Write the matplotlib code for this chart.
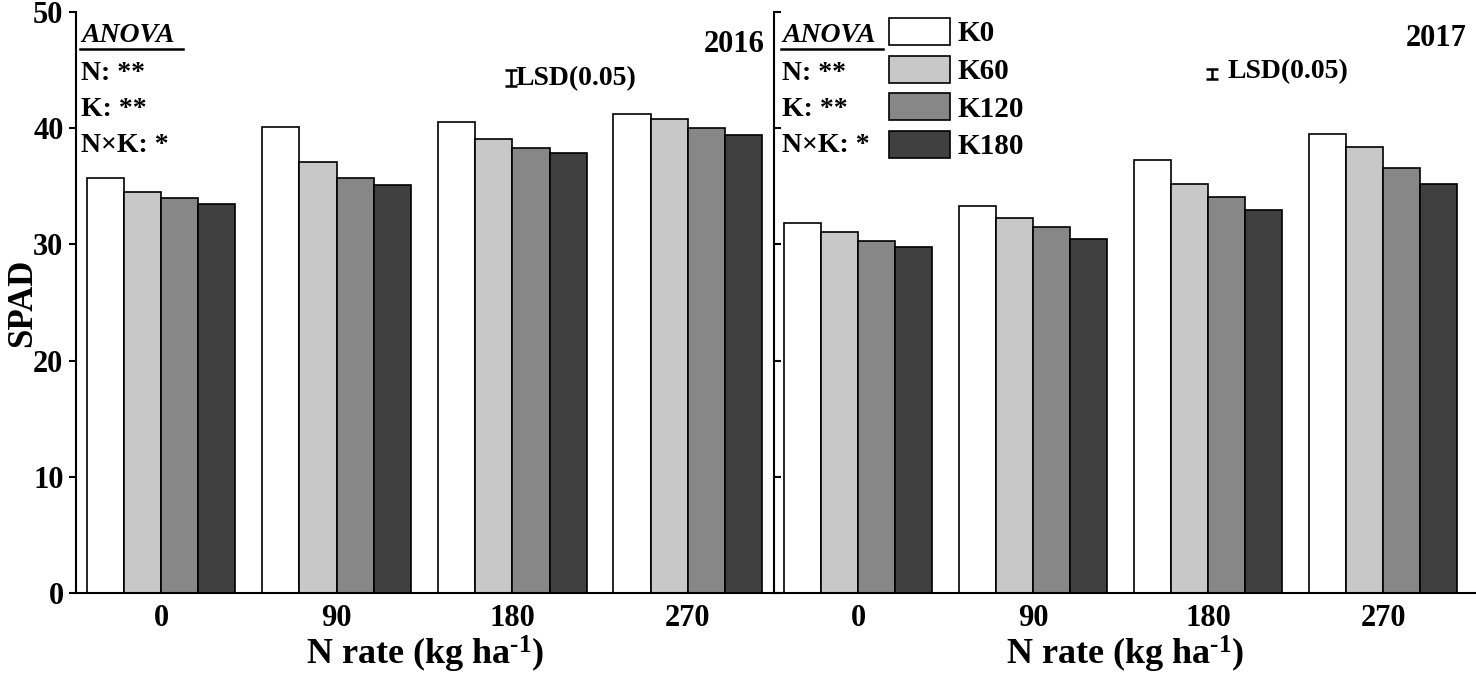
import numpy as np
import matplotlib
matplotlib.use('Agg')
import matplotlib.pyplot as plt
from matplotlib.lines import Line2D

plt.rcParams['font.family'] = ['Liberation Serif', 'DejaVu Serif']
plt.rcParams['font.weight'] = 'bold'
plt.rcParams['axes.labelweight'] = 'bold'
plt.rcParams['mathtext.fontset'] = 'custom'
plt.rcParams['mathtext.rm'] = 'Liberation Serif:bold'
plt.rcParams['mathtext.bf'] = 'Liberation Serif:bold'
plt.rcParams['mathtext.default'] = 'bf'

# data
n_rates = ['0', '90', '180', '270']
k_levels = ['K0', 'K60', 'K120', 'K180']
years = ['2016', '2017']

k0_2016 = [35.7, 40.1, 40.5, 41.2]
k60_2016 = [34.5, 37.1, 39.1, 40.8]
k120_2016 = [34.0, 35.7, 38.3, 40.0]
k180_2016 = [33.5, 35.1, 37.9, 39.4]

k0_2017 = [31.8, 33.3, 37.3, 39.5]
k60_2017 = [31.1, 32.3, 35.2, 38.4]
k120_2017 = [30.3, 31.5, 34.1, 36.6]
k180_2017 = [29.8, 30.5, 33.0, 35.2]

lsd = [1.4, 0.86]
anova_rows = ['N: **', 'K: **', 'N×K: *']

colors = ['#ffffff', '#c8c8c8', '#878787', '#404040']
W, H = 1476, 675


def fx(px):
    return px / W


def fy(py):
    return 1 - py / H


fig = plt.figure(figsize=(W / 100, H / 100), dpi=100)
ax1 = fig.add_axes([fx(76), fy(593), fx(774 - 76), (593 - 12) / H])
ax2 = fig.add_axes([fx(774), fy(593), fx(W - 774), (593 - 12) / H])

series = [[k0_2016, k60_2016, k120_2016, k180_2016],
          [k0_2017, k60_2017, k120_2017, k180_2017]]

x = np.arange(len(n_rates))
w = 0.212
bars = []
for ax, data in zip([ax1, ax2], series):
    bars = []
    for i, vals in enumerate(data):
        b = ax.bar(x + (i - 1.5) * w, vals, w, color=colors[i],
                   edgecolor='black', linewidth=1.2, label=k_levels[i])
        bars.append(b)
    ax.set_ylim(0, 50)
    ax.set_yticks(np.arange(0, 51, 10))
    ax.set_xticks(x)
    ax.set_xticklabels(n_rates, fontsize=22)
    ax.tick_params(axis='x', length=0, pad=8)
    for s in ['top', 'right']:
        ax.spines[s].set_visible(False)
    for s in ['left', 'bottom']:
        ax.spines[s].set_linewidth(1.5)
    ax.set_xlabel(r'N rate (kg ha$^{\text{-1}}$)', fontsize=26)
    ax.xaxis.set_label_coords(0.5, -0.071)

ax1.set_xlim(-0.484, 3.49)
ax2.set_xlim(-0.48, 3.53)
ax1.tick_params(axis='y', direction='out', length=5, width=1.5, labelsize=22, pad=4)
ax2.tick_params(axis='y', direction='in', length=5, width=1.5, labelleft=False)
ax1.set_ylabel('SPAD', fontsize=25)
ax1.yaxis.set_label_coords(-0.077, 0.5)
ax1.yaxis.label.set_va('center')

# LSD bars
ax1.errorbar(1.99, 44.3, yerr=lsd[0] / 2, fmt='none', ecolor='black',
             elinewidth=1.8, capsize=4, capthick=1.8)
ax2.errorbar(2.02, 44.7, yerr=lsd[1] / 2, fmt='none', ecolor='black',
             elinewidth=1.8, capsize=4, capthick=1.8)
fig.text(fx(516), fy(79), 'LSD(0.05)', fontsize=20, ha='left', va='center')
fig.text(fx(1227), fy(72), 'LSD(0.05)', fontsize=20, ha='left', va='center')

# year labels
fig.text(fx(765), fy(44), years[0], fontsize=22, ha='right', va='center')
fig.text(fx(1467), fy(38), years[1], fontsize=22, ha='right', va='center')

# ANOVA blocks
for x0, x1 in [(81, 183), (782, 883)]:
    fig.text(fx(x0), fy(36), 'ANOVA', fontsize=20, style='italic',
             ha='left', va='center')
    fig.add_artist(Line2D([fx(x0 - 1), fx(x1)], [fy(49), fy(49)],
                          color='black', linewidth=1.8))
    for row, py in zip(anova_rows, [73, 109, 146]):
        fig.text(fx(x0), fy(py), row, fontsize=20, ha='left', va='center')

ax2.legend(bars, k_levels, loc='upper left',
           bbox_to_anchor=(fx(889), fy(18)), bbox_transform=fig.transFigure,
           frameon=False, fontsize=21, handlelength=2.1, handleheight=1.05,
           handletextpad=0.25, labelspacing=0.28, borderpad=0, borderaxespad=0)

fig.savefig('out.png', dpi=100)
